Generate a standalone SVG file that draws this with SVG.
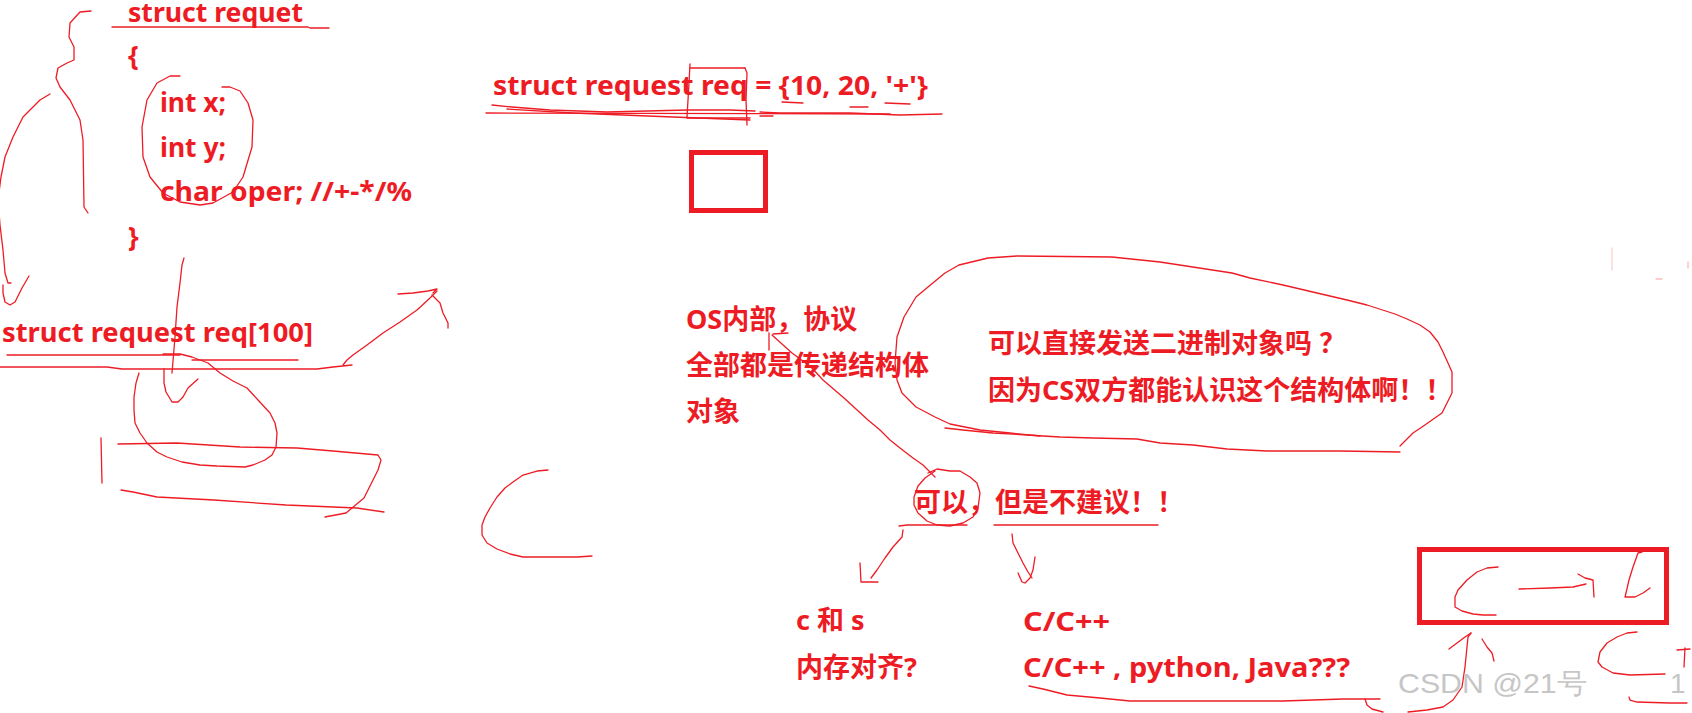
<svg xmlns="http://www.w3.org/2000/svg" width="1692" height="713" viewBox="0 0 1692 713">
<style>
.t{font-family:"Noto Sans","Noto Sans CJK SC",sans-serif;font-weight:bold;font-size:27px;fill:#ED1C24}
.p{fill:none;stroke:#ED1C24;stroke-width:1.3;stroke-linejoin:round;stroke-linecap:round}
.box{fill:none;stroke:#ED1C24;stroke-width:5}
.wm{font-family:"Liberation Sans",Arial,sans-serif;font-size:28px;fill:#c6c6c6}
</style>
<rect width="1692" height="713" fill="#ffffff"/>

<g id="struct-def">
<text class="t" x="128" y="22" textLength="175" lengthAdjust="spacingAndGlyphs">struct requet</text>
<text class="t" x="128" y="65">{</text>
<text class="t" x="160" y="112" textLength="66" lengthAdjust="spacingAndGlyphs">int x;</text>
<text class="t" x="160" y="157" textLength="66" lengthAdjust="spacingAndGlyphs">int y;</text>
<text class="t" x="160" y="201" textLength="252" lengthAdjust="spacingAndGlyphs">char oper; //+-*/%</text>
<text class="t" x="128" y="246">}</text>
</g>

<g id="req-init">
<text class="t" x="493" y="95" textLength="435" lengthAdjust="spacingAndGlyphs">struct request req = {10, 20, '+'}</text>
<rect class="box" x="691.5" y="152.5" width="74" height="58"/>
</g>

<g id="req-array">
<text class="t" x="2" y="342" textLength="311" lengthAdjust="spacingAndGlyphs">struct request req[100]</text>
</g>

<g id="os-note">
<text class="t" x="686" y="329">OS内部，协议</text>
<text class="t" x="686" y="375">全部都是传递结构体</text>
<text class="t" x="686" y="421">对象</text>
</g>

<g id="question">
<text class="t" x="988" y="353">可以直接发送二进制对象吗<tspan dx="7">？</tspan></text>
<text class="t" x="988" y="400">因为CS双方都能认识这个结构体啊！！</text>
</g>

<g id="answer">
<text class="t" x="914" y="512">可以，但是不建议！！</text>
</g>

<g id="left-branch">
<text class="t" x="796" y="630">c 和 s</text>
<text class="t" x="796" y="677">内存对齐?</text>
</g>

<g id="right-branch">
<text class="t" x="1023" y="631" textLength="87" lengthAdjust="spacingAndGlyphs">C/C++</text>
<text class="t" x="1023" y="677" textLength="327" lengthAdjust="spacingAndGlyphs">C/C++ , python, Java???</text>
</g>

<g id="cc-box">
<rect class="box" x="1419.5" y="549.5" width="247" height="73"/>
</g>

<g id="connectors">
<polyline class="p" points="91,11 80,12 70,23 69,37 74,47 74,60 67,63 58,68 56,78 60,87 70,100 80,120 83,140 84,207 88,213"/>
<polyline class="p" points="50,94 40,100 23,117 13,137 5,157 1,177 -2,200 0,225 3,250 5,273 8,283 11,283"/>
<polyline class="p" points="3,285 3,293 5,302 10,305 15,302 22,288 29,276"/>
<polyline class="p" points="180,76 170,76 157,83 147,100 142,127 143,157 150,177 163,193 180,202 200,205 213,203 233,192 243,177 252,147 253,120 248,103 240,91 230,87 222,87"/>
<polyline class="p" points="112,27 308,27 310,28 329,28"/>
<polyline class="p" points="184,258 182,265 180,283 177,307 175,337 172,373"/>
<polyline class="p" points="7,355 180,355"/>
<polyline class="p" points="192,360 298,360"/>
<polyline class="p" points="0,367 107,367 122,369 317,369 333,367 352,365"/>
<polyline class="p" points="343,365 347,360 353,355 367,345 383,333 400,322 417,310 430,298 437,291"/>
<polyline class="p" points="398,294 413,293 428,291 437,289 433,293"/>
<polyline class="p" points="432,295 440,303 443,313 448,323 448,328"/>
<polyline class="p" points="164,369 164,383 166,392 172,402 178,402 183,397 188,388 198,379"/>
<polyline class="p" points="163,354 180,354 192,357 208,363 220,373 233,381 247,388 258,400 270,413 275,423 277,433 276,447 272,455 265,460 253,465 245,467 217,466 200,465 182,462 167,457 157,452 147,443 140,433 135,423 134,410 134,397 136,383 139,373"/>
<polyline class="p" points="101,438 102,483"/>
<polyline class="p" points="118,444 177,443 240,447 297,448 333,451 378,455 381,460 378,470 373,480 364,498 352,508 346,513 325,517"/>
<polyline class="p" points="121,490 133,492 157,497 214,500 286,505 357,508 384,512"/>
<polyline class="p" points="548,470 537,471 523,475 513,482 505,488 497,497 490,508 485,517 482,525 482,535 487,543 497,549 510,554 523,557 547,557 577,557 592,556"/>
<polyline class="p" points="690,64 689,83 687,117 688,118"/>
<polyline class="p" points="690,68 745,68"/>
<polyline class="p" points="745,68 747,73 746,100 747,125"/>
<polyline class="p" points="486,113 890,114"/>
<polyline class="p" points="492,105 512,107 550,110 607,112 687,110 730,110 755,111"/>
<polyline class="p" points="507,109 573,113 673,117 750,120"/>
<polyline class="p" points="687,118 750,118"/>
<polyline class="p" points="782,102 803,103"/>
<polyline class="p" points="850,107 868,107"/>
<polyline class="p" points="885,103 910,104"/>
<polyline class="p" points="760,112 780,113 850,113 900,115 942,114"/>
<polyline class="p" points="760,116 773,116"/>
<polyline class="p" points="772,335 792,353 811,367 823,380 844,398 868,420 880,430 890,440 900,448 913,458 923,465 930,472 935,477"/>
<polyline class="p" points="769,333 769,350"/>
<polyline class="p" points="773,334 788,333"/>
<polyline class="p" points="1040,436 1010,433 980,430 950,424 935,417 916,407 902,393 897,380 895,363 897,337 904,317 916,297 928,287 945,273 959,265 988,258 1017,256 1112,257 1160,262 1232,273 1250,278 1283,285 1317,293 1347,300 1367,305 1395,314 1407,319 1420,325 1430,332 1438,342 1443,352 1448,363 1452,372 1452,393 1447,403 1442,413 1432,420 1422,427 1413,433 1400,446"/>
<polyline class="p" points="945,428 963,430 993,433 1027,435 1060,437 1093,438 1137,439 1160,443 1193,445 1227,449 1267,451 1340,451 1400,452"/>
<polyline class="p" points="928,473 937,469 950,471 960,471 970,477 977,483 980,493 978,508 973,517 963,523 950,526 937,525 927,521 918,513 914,505 914,497 918,486 925,478 935,471"/>
<polyline class="p" points="899,526 907,525 967,525"/>
<polyline class="p" points="994,525 1158,525"/>
<polyline class="p" points="903,530 902,537 893,547 885,558 877,570 871,578"/>
<polyline class="p" points="860,563 861,582 878,582"/>
<polyline class="p" points="1012,534 1013,543 1018,553 1023,563 1028,572 1032,578"/>
<polyline class="p" points="1035,557 1033,570 1030,578 1025,583 1022,582 1018,573"/>
<polyline class="p" points="1029,686 1043,689 1067,695 1100,698 1130,701 1283,701 1343,699 1380,699"/>
<polyline class="p" points="1365,699 1367,705 1372,709 1383,712"/>
<polyline class="p" points="1408,712 1427,710 1443,707 1453,700 1462,687 1465,667 1467,647 1468,637 1471,633"/>
<polyline class="p" points="1449,649 1457,643 1465,637 1471,633"/>
<polyline class="p" points="1482,639 1487,647 1492,653 1494,661"/>
<polyline class="p" points="1498,567 1487,568 1477,572 1467,580 1458,590 1455,597 1455,607 1462,611 1473,614 1483,615 1496,615"/>
<polyline class="p" points="1519,589 1550,588 1573,587 1586,584"/>
<polyline class="p" points="1578,574 1585,578 1593,580 1594,597"/>
<polyline class="p" points="1642,552 1638,553 1633,567 1629,580 1626,593 1625,597 1635,597 1643,593 1650,588"/>
<polyline class="p" points="1637,632 1627,633 1617,637 1607,643 1600,652 1598,662 1602,667 1613,673 1630,675 1665,674"/>
<polyline class="p" points="1629,697 1630,700 1637,702 1670,703 1687,703"/>
<polyline class="p" points="1677,650 1690,649"/>
<polyline class="p" points="1685,648 1684,667"/>
<polyline class="p" points="1612,248 1612,270" opacity="0.2"/>
<polyline class="p" points="1656,279 1662,279" opacity="0.3"/>
<polyline class="p" points="1688,262 1688,268" opacity="0.3"/>
</g>

<g id="watermark">
<text class="wm" x="1398" y="693" textLength="189" lengthAdjust="spacingAndGlyphs">CSDN @21号</text>
<text class="wm" x="1670" y="693">1</text>
</g>
</svg>
